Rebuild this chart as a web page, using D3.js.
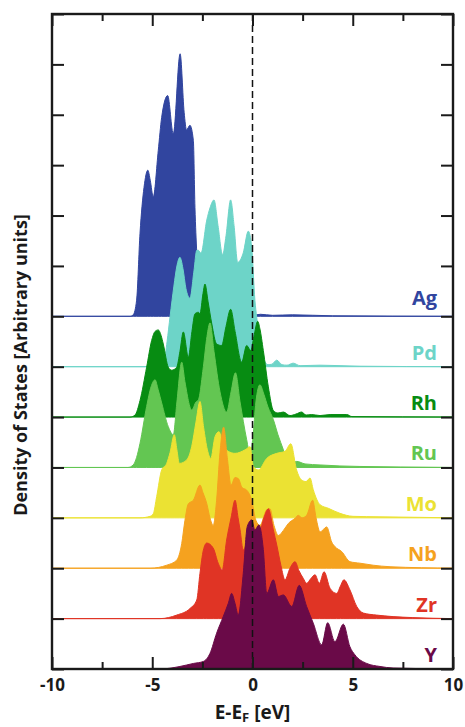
<!DOCTYPE html>
<html>
<head>
<meta charset="utf-8">
<script src="https://cdn.jsdelivr.net/npm/d3@7"></script>
<style>
  body { margin: 0; background: #fff; }
  text { font-family: "Open Sans", sans-serif; font-weight: 700; }
</style>
</head>
<body>
<div id="chart"></div>
<script>
// element names, from top to bottom of the stack
var elements = ["Ag", "Pd", "Rh", "Ru", "Mo", "Nb", "Zr", "Y"];
var colors = ["#31459f", "#6dd4c8", "#078c12", "#63c652", "#ebe233", "#f5a21f", "#e03425", "#6a0a48"];
var offsets = [7, 6, 5, 4, 3, 2, 1, 0];
var xMajor = [-10, -5, 0, 5, 10];
var xMinor = [-7.5, -2.5, 2.5, 7.5];
var yTicks = [0, 1, 2, 3, 4, 5, 6, 7, 8, 9, 10, 11, 12, 13];

// DOS curves: energy (eV) and height (tick units)
var agE = [-10, -6.11, -5.95, -5.78, -5.61, -5.41, -5.22, -5.1, -4.95, -4.7, -4.53, -4.23, -3.95, -3.61, -3.41, -3.29, -3.12, -2.95, -2.87, -2.78, -2.67, -2.52, -2.3, 0, 0.4, 1.0, 2.0, 4, 10];
var agD = [0, 0, 0.03, 0.32, 1.65, 2.56, 2.9, 2.7, 2.37, 3.29, 3.95, 4.38, 3.62, 5.21, 4.05, 3.7, 3.79, 3.49, 2.16, 1.25, 0.3, 0.05, 0.02, 0.02, 0.04, 0.02, 0.03, 0.01, 0];

var pdE = [-10, -4.61, -4.41, -4.26, -4.11, -3.92, -3.77, -3.62, -3.47, -3.32, -3.12, -2.92, -2.78, -2.7, -2.57, -2.28, -2.12, -1.92, -1.72, -1.49, -1.32, -1.09, -0.92, -0.74, -0.46, -0.21, -0.04, 0.12, 0.21, 0.37, 0.57, 0.77, 0.97, 1.21, 1.47, 1.72, 2.03, 2.37, 3.37, 5.36, 10];
var pdD = [0, 0, 0.1, 0.5, 1.0, 1.6, 2.0, 2.17, 1.95, 1.55, 1.36, 1.9, 2.31, 2.31, 2.25, 2.91, 3.15, 3.31, 2.8, 2.22, 2.6, 3.31, 2.8, 2.07, 2.26, 2.69, 2.37, 1.32, 0.98, 0.5, 0.15, 0.04, 0.05, 0.13, 0.04, 0.03, 0.07, 0.02, 0.03, 0.01, 0];

var rhE = [-10, -6.11, -5.86, -5.61, -5.28, -5.03, -4.86, -4.7, -4.56, -4.45, -4.2, -4.03, -3.78, -3.62, -3.45, -3.2, -3.02, -2.87, -2.7, -2.62, -2.47, -2.37, -2.22, -2.03, -1.79, -1.54, -1.32, -1.09, -0.87, -0.54, -0.29, -0.09, 0.07, 0.26, 0.37, 0.54, 0.79, 1.04, 1.27, 1.54, 1.87, 2.17, 2.45, 2.67, 2.95, 3.37, 3.87, 4.7, 4.96, 10];
var rhD = [0, 0, 0.04, 0.33, 0.99, 1.52, 1.7, 1.73, 1.62, 1.45, 0.99, 0.93, 0.99, 1.3, 1.69, 1.19, 1.7, 2.05, 2.08, 2.05, 2.45, 2.64, 2.3, 1.85, 1.45, 1.42, 1.8, 2.14, 1.7, 1.09, 1.42, 1.32, 1.6, 1.9, 1.75, 1.32, 0.6, 0.13, 0.08, 0.1, 0.03, 0.06, 0.1, 0.04, 0.05, 0.03, 0.05, 0.05, 0.01, 0];

var ruE = [-10, -6.21, -5.95, -5.78, -5.61, -5.28, -5.06, -4.86, -4.71, -4.53, -4.2, -3.95, -3.77, -3.53, -3.37, -3.03, -2.82, -2.7, -2.45, -2.27, -2.12, -1.92, -1.62, -1.29, -1.07, -0.85, -0.62, -0.29, -0.12, 0.02, 0.17, 0.37, 0.57, 0.77, 1.04, 1.27, 1.54, 1.71, 1.97, 2.21, 2.62, 3.37, 4.36, 5.36, 7.36, 10];
var ruD = [0, 0, 0.05, 0.2, 0.48, 1.21, 1.6, 1.74, 1.55, 1.28, 0.81, 0.65, 1.3, 2.09, 1.7, 1.14, 1.3, 1.34, 2.0, 2.6, 2.87, 2.3, 1.5, 1.1, 1.5, 1.88, 1.3, 0.55, 0.24, 0.6, 1.3, 1.64, 1.45, 1.2, 0.95, 0.65, 0.35, 0.15, 0.1, 0.12, 0.07, 0.05, 0.03, 0.02, 0.01, 0];

var moE = [-10, -5.61, -5.11, -4.95, -4.78, -4.53, -4.28, -4.11, -3.9, -3.77, -3.65, -3.28, -3.03, -2.82, -2.62, -2.44, -2.25, -2.08, -1.87, -1.67, -1.47, -1.21, -0.87, -0.37, -0.12, 0.04, 0.29, 0.71, 1.21, 1.62, 1.91, 2.2, 2.45, 2.67, 2.87, 3.03, 3.37, 3.78, 4.36, 5.01, 6.36, 8.35, 10];
var moD = [0, 0, 0.03, 0.08, 0.42, 0.95, 1.08, 1.3, 1.65, 1.35, 1.08, 1.15, 1.42, 1.9, 2.31, 1.8, 1.35, 1.18, 1.61, 1.71, 1.45, 1.32, 1.28, 1.35, 1.41, 1.02, 0.95, 1.18, 1.28, 1.32, 1.47, 0.95, 0.75, 0.72, 0.79, 0.56, 0.26, 0.19, 0.09, 0.03, 0.02, 0.01, 0];

var nbE = [-10, -5.11, -4.28, -3.78, -3.53, -3.37, -3.2, -2.95, -2.62, -2.47, -2.28, -2.12, -1.96, -1.79, -1.62, -1.44, -1.26, -1.07, -0.87, -0.71, -0.52, -0.29, -0.04, 0.17, 0.37, 0.71, 0.87, 1.07, 1.29, 1.54, 1.79, 2.12, 2.28, 2.47, 2.7, 3.0, 3.17, 3.37, 3.7, 3.95, 4.11, 4.45, 4.86, 5.36, 6.02, 6.86, 10];
var nbD = [0, 0, 0.06, 0.16, 0.49, 0.95, 1.28, 1.35, 1.65, 1.5, 1.28, 1.0, 0.85, 1.35, 2.3, 2.8, 2.2, 1.65, 1.8, 1.78, 1.6, 1.55, 1.35, 0.95, 0.85, 1.16, 1.18, 0.85, 0.65, 0.75, 0.89, 0.99, 1.05, 1.0, 1.05, 1.35, 1.0, 0.72, 0.82, 0.52, 0.43, 0.33, 0.13, 0.1, 0.06, 0.03, 0];

var zrE = [-10, -4.61, -3.78, -3.12, -2.78, -2.62, -2.45, -2.28, -1.96, -1.71, -1.51, -1.29, -1.07, -0.87, -0.72, -0.62, -0.46, -0.22, 0.02, 0.37, 0.57, 0.79, 1.04, 1.21, 1.42, 1.62, 1.87, 2.12, 2.32, 2.53, 2.7, 2.92, 3.12, 3.33, 3.57, 3.87, 4.2, 4.39, 4.56, 4.86, 5.2, 5.53, 6.19, 7.01, 8.0, 10];
var zrD = [0, 0, 0.07, 0.2, 0.37, 0.9, 1.36, 1.5, 1.4, 1.1, 0.97, 1.56, 2.0, 2.35, 2.0, 1.76, 1.36, 1.6, 1.75, 1.76, 2.0, 2.18, 1.76, 1.46, 1.05, 0.77, 1.0, 1.13, 0.95, 0.8, 0.7, 0.8, 0.87, 0.7, 0.93, 0.6, 0.5, 0.65, 0.77, 0.57, 0.24, 0.11, 0.07, 0.04, 0.02, 0];

var yE = [-10, -4.61, -3.62, -2.95, -2.45, -2.12, -1.79, -1.46, -1.21, -1.04, -0.87, -0.71, -0.46, -0.26, -0.04, 0.12, 0.32, 0.54, 0.71, 1.04, 1.29, 1.54, 1.96, 2.33, 2.7, 3.03, 3.45, 3.75, 4.11, 4.53, 4.86, 5.11, 5.7, 6.36, 7.01, 10];
var yD = [0, 0, 0.05, 0.11, 0.15, 0.31, 0.71, 1.04, 1.3, 1.5, 1.3, 1.07, 1.9, 2.83, 2.96, 2.76, 2.86, 2.37, 1.5, 1.77, 1.44, 1.47, 1.24, 1.66, 1.24, 0.91, 0.48, 0.92, 0.54, 0.89, 0.44, 0.28, 0.11, 0.05, 0.02, 0];

var energies = [agE, pdE, rhE, ruE, moE, nbE, zrE, yE];
var dosValues = [agD, pdD, rhD, ruD, moD, nbD, zrD, yD];

var margin = {top: 14, right: 12, bottom: 58, left: 52},
    width = 401,
    height = 655;

var svg = d3.select("#chart").append("svg")
    .attr("width", width + margin.left + margin.right)
    .attr("height", height + margin.top + margin.bottom)
  .append("g")
    .attr("transform", "translate(" + margin.left + "," + margin.top + ")");

var x = d3.scaleLinear().domain([-10, 10]).range([0, width]);
var y = d3.scaleLinear().domain([0, 13]).range([height, 0]);

// stacked curves, the lower ones drawn over the upper ones
elements.forEach(function(name, i) {
  var base = offsets[i];
  var pts = energies[i].map(function(e, j) { return {e: e, v: dosValues[i][j]}; });
  var area = d3.area()
      .x(function(d) { return x(d.e); })
      .y0(y(base))
      .y1(function(d) { return y(base + d.v); })
      .curve(d3.curveMonotoneX);
  svg.append("path")
      .datum(pts)
      .attr("d", area)
      .attr("fill", colors[i])
      .attr("stroke", colors[i])
      .attr("stroke-width", 1);

  svg.append("text")
      .attr("x", 385)
      .attr("y", y(base) - (/[gjpqy]/.test(name) ? 11 : 7))
      .attr("text-anchor", "end")
      .attr("fill", colors[i])
      .style("font-size", "20px")
      .text(name);
});

// Fermi level
svg.append("line")
    .attr("x1", x(0)).attr("x2", x(0))
    .attr("y1", 0).attr("y2", height)
    .attr("stroke", "#111")
    .attr("stroke-width", 1.5)
    .attr("stroke-dasharray", "7,4");

// axes: all ticks point inward
function styleAxis(g) {
  g.select(".domain").remove();
  g.selectAll(".tick line").attr("stroke", "#1a1a1a").attr("stroke-width", 2);
}

svg.append("g")
    .attr("transform", "translate(0," + height + ")")
    .call(d3.axisBottom(x).tickValues(xMajor).tickSize(-12).tickPadding(10)
      .tickFormat(function(d) { return d < 0 ? "-" + Math.abs(d) : d; }))
    .call(styleAxis)
    .selectAll("text").attr("fill", "#1a1a1a").style("font-size", "17px").style("font-family", "Open Sans").style("font-weight", 700);
svg.append("g")
    .attr("transform", "translate(0," + height + ")")
    .call(d3.axisBottom(x).tickValues(xMinor).tickSize(-7).tickFormat(""))
    .call(styleAxis);
svg.append("g")
    .call(d3.axisTop(x).tickValues(xMajor).tickSize(-12).tickFormat(""))
    .call(styleAxis);
svg.append("g")
    .call(d3.axisTop(x).tickValues(xMinor).tickSize(-7).tickFormat(""))
    .call(styleAxis);
svg.append("g")
    .call(d3.axisLeft(y).tickValues(yTicks).tickSize(-12).tickFormat(""))
    .call(styleAxis);
svg.append("g")
    .attr("transform", "translate(" + width + ",0)")
    .call(d3.axisRight(y).tickValues(yTicks).tickSize(-12).tickFormat(""))
    .call(styleAxis);

// frame
svg.append("rect")
    .attr("width", width)
    .attr("height", height)
    .attr("fill", "none")
    .attr("stroke", "#1a1a1a")
    .attr("stroke-width", 2.4);

// axis titles
var xt = svg.append("text")
    .attr("x", x(0))
    .attr("y", height + 50)
    .attr("text-anchor", "middle")
    .attr("fill", "#1a1a1a")
    .style("font-size", "19px");
xt.append("tspan").text("E-E");
xt.append("tspan").attr("dy", 3).style("font-size", "13px").text("F");
xt.append("tspan").attr("dy", -3).text(" [eV]");

svg.append("text")
    .attr("transform", "translate(-25," + (y(0) - 304) + ")rotate(-90)")
    .attr("text-anchor", "middle")
    .attr("fill", "#1a1a1a")
    .style("font-size", "18px")
    .text("Density of States [Arbitrary units]");
</script>
</body>
</html>
